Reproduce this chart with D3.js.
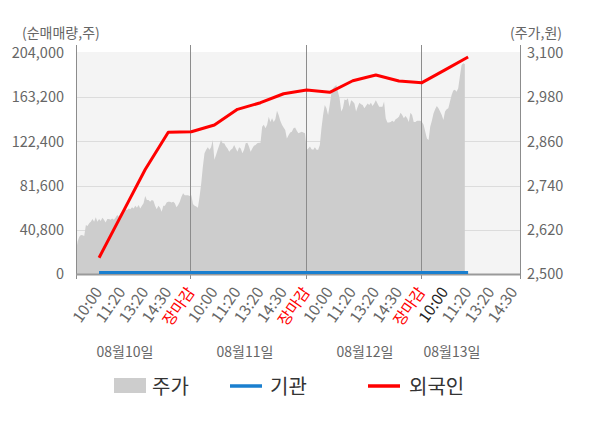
<!DOCTYPE html>
<html><head><meta charset="utf-8">
<script src="https://cdn.jsdelivr.net/npm/d3@7"></script>
<style>
html,body{margin:0;padding:0;background:#fff;}
svg{display:block;font-family:"Noto Sans CJK KR","Noto Sans",sans-serif;}
</style></head>
<body><svg id="c" width="600" height="428"></svg>
<script>
const dayLabels = ["08월10일","08월11일","08월12일","08월13일"];
const timeLabels = ["10:00","11:20","13:20","14:30","장마감"];
const leftTicks = [0,40800,81600,122400,163200,204000];
const rightTicks = [2500,2620,2740,2860,2980,3100];
// 외국인 / 기관 net buying at each time tick (slot 1..17)
const foreign = [15000,55700,96500,130800,131300,137500,152000,158100,166400,169850,167700,178400,183700,178150,176600,188400,200300];
const institution = [1500,1500,1500,1500,1500,1500,1500,1500,1500,1500,1500,1500,1500,1500,1500,1500,1500];
// 주가 intraday samples per day
const priceDay1 = [2562,2588,2601,2606,2605,2603,2633,2630,2638,2642,2649,2642,2654,2642,2649,2644,2653,2647,2640,2649,2649,2647,2651,2647,2653,2660,2656,2665,2669,2672,2676,2674,2678,2676,2681,2678,2685,2680,2687,2678,2685,2692,2712,2701,2701,2696,2701,2699,2685,2676,2685,2680,2669,2685,2685,2694,2696,2696,2694,2696,2692,2681,2687,2696,2710,2719,2714,2714,2714,2712];
const priceDay2 = [2714,2690,2685,2683,2680,2710,2746,2791,2828,2837,2844,2837,2844,2864,2810,2823,2837,2850,2864,2855,2855,2846,2841,2832,2837,2841,2850,2841,2832,2844,2841,2828,2837,2855,2856,2846,2832,2841,2848,2850,2855,2856,2856,2900,2905,2896,2905,2927,2913,2923,2913,2920,2943,2932,2916,2905,2898,2891,2868,2877,2884,2886,2896,2898,2889,2882,2884,2886,2884,2882];
const priceDay3 = [2837,2841,2846,2839,2837,2844,2837,2837,2850,2896,2932,2959,2950,2932,2959,2991,3004,3009,3013,2995,2977,2941,2950,2974,2972,2977,2954,2972,2968,2963,2941,2954,2965,2961,2959,2950,2956,2963,2959,2965,2956,2963,2972,2963,2954,2954,2954,2968,2923,2911,2911,2913,2916,2913,2920,2923,2927,2938,2932,2923,2929,2923,2913,2938,2932,2913,2913,2916,2916,2916];
const priceDay4 = [2913,2905,2886,2868,2864,2900,2916,2936,2947,2956,2950,2941,2932,2918,2941,2947,2950,2968,2986,2998,3000,2995,3004,3036,3067,3072,3070];

const SAMPLES_PER_DAY = 70, SLOTS_PER_DAY = 5;
const svg = d3.select("#c");
const L = 76, R = 520, T = 53, B = 274;
const x = d3.scaleLinear().domain([0, 19.25]).range([L, R]);
const yL = d3.scaleLinear().domain([0, 204000]).range([B, T]);
const yR = d3.scaleLinear().domain([2500, 3100]).range([B, T]);

// background
svg.append("rect").attr("x", L).attr("y", T - 1).attr("width", R - L).attr("height", B - T + 1).attr("fill", "#f4f4f4");

// horizontal grid
svg.append("g").selectAll("line").data(leftTicks.slice(1, -1)).join("line")
  .attr("x1", L).attr("x2", R).attr("y1", d => Math.round(yL(d)) + 0.5).attr("y2", d => Math.round(yL(d)) + 0.5)
  .attr("stroke", "#dcdcdc").attr("stroke-width", 1);

// price area
const priceData = [];
[priceDay1, priceDay2, priceDay3, priceDay4].forEach((arr, d) => {
  arr.forEach((p, i) => priceData.push({slot: d * SLOTS_PER_DAY + i * SLOTS_PER_DAY / SAMPLES_PER_DAY, price: p}));
});
svg.append("path").datum(priceData)
  .attr("d", d3.area().x(d => x(d.slot)).y0(yR(2500)).y1(d => yR(d.price)))
  .attr("fill", "#cdcdcd");

// day separators
const seps = [5, 10, 15];
svg.append("g").selectAll("line").data(seps).join("line")
  .attr("x1", d => Math.round(x(d)) - 0.5).attr("x2", d => Math.round(x(d)) - 0.5)
  .attr("y1", 45).attr("y2", 279).attr("stroke", "#8c8c8c");

// axes lines
svg.append("line").attr("x1", L + 0.5).attr("x2", L + 0.5).attr("y1", 45).attr("y2", 279).attr("stroke", "#8c8c8c");
svg.append("line").attr("x1", R + 0.5).attr("x2", R + 0.5).attr("y1", 45).attr("y2", 279).attr("stroke", "#8c8c8c");
svg.append("line").attr("x1", L).attr("x2", R).attr("y1", B + 0.5).attr("y2", B + 0.5).attr("stroke", "#9a9a9a").attr("stroke-width", 2);

// lines
const lineGen = d3.line().x((d, i) => x(i + 1)).y(d => yL(d));
svg.append("path").datum(institution).attr("d", lineGen).attr("fill", "none").attr("stroke", "#1a7fcf").attr("stroke-width", 3);
svg.append("path").datum(foreign).attr("d", lineGen).attr("fill", "none").attr("stroke", "#ff0000").attr("stroke-width", 3).attr("stroke-linejoin", "round");

// y axis labels
svg.append("g").selectAll("text").data(leftTicks).join("text")
  .attr("x", 64).attr("y", d => yL(d)).attr("dy", "0.36em").attr("text-anchor", "end")
  .attr("font-size", 14.5).attr("fill", "#666").text(d => d3.format(",")(d));
svg.append("g").selectAll("text").data(rightTicks).join("text")
  .attr("x", 527).attr("y", d => yR(d)).attr("dy", "0.36em").attr("text-anchor", "start")
  .attr("font-size", 14.5).attr("fill", "#666").text(d => d3.format(",")(d));
svg.append("text").attr("x", 22).attr("y", 38).attr("font-size", 14).attr("fill", "#666").text("(순매매량,주)");
svg.append("text").attr("x", 562).attr("y", 38).attr("text-anchor", "end").attr("font-size", 14).attr("fill", "#666").text("(주가,원)");

// x labels
const xl = [];
dayLabels.forEach((dl, d) => timeLabels.forEach((t, k) => {
  const slot = d * SLOTS_PER_DAY + k + 1;
  if (slot <= 19) xl.push({slot, t, d, k});
}));
svg.append("g").selectAll("text").data(xl).join("text")
  .attr("transform", d => `translate(${x(d.slot) + 4},${292}) rotate(-55)`)
  .attr("text-anchor", "end").attr("font-size", 15.5)
  .attr("fill", d => d.t === "장마감" ? "#ff0000" : (d.d === 3 && d.k === 0 ? "#222" : "#666"))
  .text(d => d.t);

const dayX = [125, 245, 365, 452];
svg.append("g").selectAll("text").data(dayLabels).join("text")
  .attr("x", (d, i) => dayX[i]).attr("y", 357).attr("text-anchor", "middle")
  .attr("font-size", 14).attr("fill", "#666").text(d => d);

// legend
const lg = svg.append("g");
lg.append("rect").attr("x", 114).attr("y", 378).attr("width", 32).attr("height", 15).attr("fill", "#cdcdcd");
lg.append("text").attr("x", 152).attr("y", 394).attr("font-size", 20).attr("fill", "#333").text("주가");
lg.append("line").attr("x1", 230).attr("x2", 262).attr("y1", 386).attr("y2", 386).attr("stroke", "#1a7fcf").attr("stroke-width", 3.5);
lg.append("text").attr("x", 270).attr("y", 394).attr("font-size", 20).attr("fill", "#333").text("기관");
lg.append("line").attr("x1", 368).attr("x2", 400).attr("y1", 386).attr("y2", 386).attr("stroke", "#ff0000").attr("stroke-width", 3.5);
lg.append("text").attr("x", 409).attr("y", 394).attr("font-size", 20).attr("fill", "#333").text("외국인");
</script></body></html>
